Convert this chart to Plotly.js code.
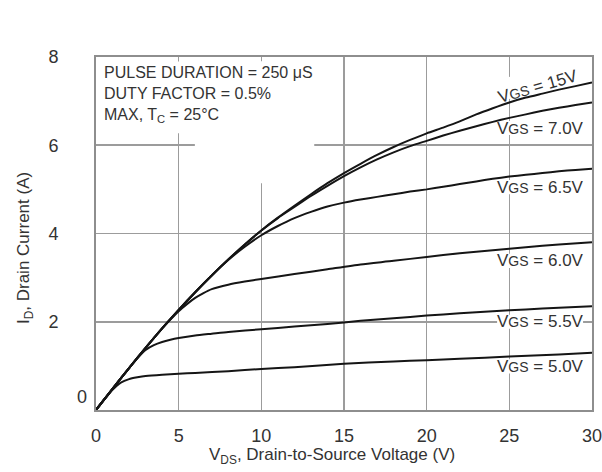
<!DOCTYPE html>
<html>
<head>
<meta charset="utf-8">
<script src="https://cdn.plot.ly/plotly-3.0.1.min.js"></script>
<style>
  html, body { margin: 0; padding: 0; background: #fff; }
  #chart { width: 602px; height: 472px; }
</style>
</head>
<body>
<div id="chart"></div>
<script>
// Output characteristics: drain current vs drain-to-source voltage for several gate voltages
const seriesNames = ['15V', '7.0V', '6.5V', '6.0V', '5.5V', '5.0V'];

const vds15 = [0, 1, 2, 3, 4, 5, 6, 7, 8, 9, 10, 11, 12, 13, 14, 15, 16, 17, 18, 19, 20, 21, 22, 23, 24, 25, 26, 27, 28, 29, 30];
const id15  = [0, 0.48, 0.95, 1.41, 1.85, 2.27, 2.67, 3.05, 3.41, 3.75, 4.07, 4.36, 4.63, 4.89, 5.14, 5.37, 5.58, 5.78, 5.96, 6.12, 6.27, 6.40, 6.54, 6.70, 6.84, 6.97, 7.08, 7.17, 7.26, 7.34, 7.42];

const vds70 = [0, 1, 2, 3, 4, 5, 6, 7, 8, 9, 10, 11, 12, 13, 14, 15, 16, 17, 18, 19, 20, 21, 22, 23, 24, 25, 26, 27, 28, 29, 30];
const id70  = [0, 0.48, 0.95, 1.41, 1.85, 2.27, 2.67, 3.05, 3.41, 3.75, 4.07, 4.35, 4.60, 4.85, 5.08, 5.30, 5.50, 5.68, 5.84, 5.98, 6.10, 6.22, 6.33, 6.43, 6.53, 6.62, 6.70, 6.78, 6.85, 6.91, 6.97];

const vds65 = [0, 1, 2, 3, 4, 5, 6, 7, 8, 9, 10, 11, 12, 13, 14, 15, 16, 17, 18, 19, 20, 21, 22, 23, 24, 25, 26, 27, 28, 29, 30];
const id65  = [0, 0.48, 0.95, 1.41, 1.85, 2.27, 2.67, 3.05, 3.40, 3.70, 3.96, 4.17, 4.35, 4.49, 4.61, 4.70, 4.77, 4.83, 4.89, 4.95, 5.00, 5.06, 5.12, 5.18, 5.24, 5.29, 5.33, 5.37, 5.41, 5.44, 5.47];

const vds60 = [0, 1, 2, 3, 4, 4.5, 5, 5.5, 6, 6.5, 7, 8, 9, 10, 12, 14, 16, 18, 20, 22, 24, 26, 28, 30];
const id60  = [0, 0.48, 0.95, 1.41, 1.85, 2.05, 2.24, 2.40, 2.54, 2.65, 2.74, 2.84, 2.91, 2.97, 3.08, 3.19, 3.30, 3.38, 3.47, 3.55, 3.62, 3.69, 3.75, 3.80];

const vds55 = [0, 1, 2, 2.5, 3, 3.5, 4, 4.5, 5, 6, 7, 8, 10, 12, 14, 16, 18, 20, 22, 24, 26, 28, 30];
const id55  = [0, 0.48, 0.95, 1.17, 1.36, 1.47, 1.54, 1.59, 1.63, 1.69, 1.73, 1.77, 1.83, 1.89, 1.95, 2.02, 2.08, 2.14, 2.19, 2.24, 2.28, 2.32, 2.35];

const vds50 = [0, 0.5, 1, 1.5, 2, 2.5, 3, 4, 5, 6, 8, 10, 12, 15, 18, 20, 22, 25, 28, 30];
const id50  = [0, 0.24, 0.46, 0.62, 0.70, 0.74, 0.77, 0.80, 0.82, 0.84, 0.88, 0.93, 0.97, 1.05, 1.10, 1.13, 1.16, 1.21, 1.26, 1.30];

const xTickVals = [0, 5, 10, 15, 20, 25, 30];
const xTickText = ['0', '5', '10', '15', '20', '25', '30'];
const yTickVals = [0, 2, 4, 6, 8];
const yTickText = ['0', '2', '4', '6', '8'];

const noteLines = ['PULSE DURATION = 250 \u03bcS', 'DUTY FACTOR = 0.5%', 'MAX, T<sub>C</sub> = 25\u00b0C'];

// label anchor points (data coordinates) for the curve captions
const labelX = [26.74, 26.86, 26.86, 26.86, 26.86, 26.86];
const labelY = [7.33, 6.39, 5.05, 3.38, 2.0, 0.99];
const labelAngle = [-16, 0, 0, 0, 0, 0];

const FONT = '"Liberation Sans", Arial, Helvetica, sans-serif';
const TEXT = '#333333';

const xs = [vds15, vds70, vds65, vds60, vds55, vds50];
const ys = [id15, id70, id65, id60, id55, id50];

const traces = seriesNames.map((name, i) => ({
  type: 'scatter',
  mode: 'lines',
  name: 'VGS = ' + name,
  x: xs[i],
  y: ys[i],
  line: { color: '#151515', width: 2, shape: 'spline', smoothing: 0.6 },
  hoverinfo: 'x+y+name'
}));

const annotations = [];
seriesNames.forEach((name, i) => {
  annotations.push({
    x: labelX[i], y: labelY[i], xref: 'x', yref: 'y',
    text: 'V<span style="font-size:14px">GS</span> = ' + name,
    showarrow: false, textangle: labelAngle[i],
    xanchor: 'center', yanchor: 'middle',
    font: { family: FONT, size: 17, color: TEXT }
  });
});

// test conditions box
annotations.push({
  x: 0.012, y: 0.985, xref: 'paper', yref: 'paper',
  xanchor: 'left', yanchor: 'top', align: 'left',
  text: noteLines.join('<br>'), showarrow: false,
  font: { family: FONT, size: 16, color: TEXT }
});

// zero label on the current axis sits a little inward
annotations.push({
  x: -0.028, y: 0.037, xref: 'paper', yref: 'paper',
  xanchor: 'center', yanchor: 'middle',
  text: yTickText[0], showarrow: false,
  font: { family: FONT, size: 18, color: TEXT }
});

// axis titles
annotations.push({
  x: 0.476, y: -0.13, xref: 'paper', yref: 'paper',
  xanchor: 'center', yanchor: 'middle',
  text: 'V<sub>DS</sub>, Drain-to-Source Voltage (V)', showarrow: false,
  font: { family: FONT, size: 17, color: TEXT }
});
annotations.push({
  x: -0.143, y: 0.459, xref: 'paper', yref: 'paper',
  xanchor: 'center', yanchor: 'middle', textangle: -90,
  text: 'I<sub>D</sub>, Drain Current (A)', showarrow: false,
  font: { family: FONT, size: 17, color: TEXT }
});

// white panels that hide the grid behind the text
const shapes = [
  { type: 'rect', xref: 'x', yref: 'y', x0: 0.05, x1: 14.4, y0: 6.27, y1: 7.9 },
  { type: 'rect', xref: 'x', yref: 'y', x0: 5.98, x1: 13.2, y0: 5.14, y1: 7.9 },
  { type: 'rect', xref: 'x', yref: 'y', x0: 24.7, x1: 25.3, y0: 7.05, y1: 7.55 }
];
for (let i = 1; i < seriesNames.length; i++) {
  shapes.push({ type: 'rect', xref: 'x', yref: 'y',
    x0: labelX[i] - 2.6, x1: labelX[i] + 2.6, y0: labelY[i] - 0.16, y1: labelY[i] + 0.16 });
}
shapes.forEach(s => { s.layer = 'between'; s.fillcolor = '#ffffff'; s.line = { width: 0 }; });

const layout = {
  width: 602,
  height: 472,
  margin: { l: 96, r: 10, t: 57, b: 62 },
  paper_bgcolor: '#ffffff',
  plot_bgcolor: '#ffffff',
  showlegend: false,
  font: { family: FONT, color: TEXT },
  xaxis: {
    range: [0, 30],
    tickvals: xTickVals,
    ticktext: xTickText,
    ticks: '',
    ticklabelstandoff: 8,
    ticklabeloverflow: 'allow',
    tickfont: { family: FONT, size: 18, color: TEXT },
    showgrid: true, gridcolor: '#9c9c9c', gridwidth: 1.6,
    zeroline: false,
    showline: true, linecolor: '#8e8e8e', linewidth: 2, mirror: true,
    fixedrange: true
  },
  yaxis: {
    range: [0, 8],
    tickvals: yTickVals,
    ticktext: yTickText.map((t, i) => (yTickVals[i] === 0 ? '' : t)),
    ticks: '',
    ticklabelstandoff: 32,
    tickfont: { family: FONT, size: 18, color: TEXT },
    showgrid: true, gridcolor: '#9c9c9c', gridwidth: 1.6,
    zeroline: false,
    showline: true, linecolor: '#8e8e8e', linewidth: 2, mirror: true,
    fixedrange: true
  },
  annotations: annotations,
  shapes: shapes
};

Plotly.newPlot('chart', traces, layout, { displayModeBar: false, staticPlot: true });
</script>
</body>
</html>
